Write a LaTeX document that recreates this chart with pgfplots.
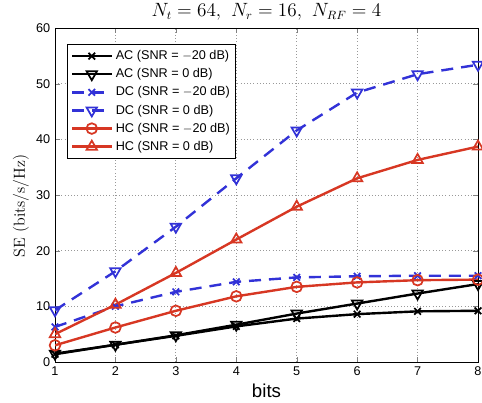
\documentclass[border=0pt]{standalone}
\usepackage{fontspec}
\setsansfont{Liberation Sans}
\usepackage{pgfplots}
\pgfplotsset{compat=1.18}
\definecolor{myblue}{RGB}{50,50,215}
\definecolor{myred}{RGB}{215,55,35}
\begin{document}
\begin{tikzpicture}
\begin{axis}[
  scale only axis,
  width=317.25pt, height=250.5pt,
  xmin=1, xmax=8, ymin=0, ymax=60,
  xtick={1,...,8}, ytick={0,10,...,60},
  tick align=inside, tick pos=both,
  major tick length=3.5pt,
  axis line style={line width=0.6pt},
  grid=major, grid style={dotted, gray!80, line width=0.6pt},
  ticklabel style={font=\sffamily\fontsize{9.5}{11}\selectfont},
  /pgf/number format/assume math mode=true,
  xlabel={\sffamily\fontsize{14}{16}\selectfont bits},
  ylabel={\fontsize{12}{14}\selectfont SE (bits/s/Hz)},
  xlabel style={at={(axis description cs:0.5,0)}, anchor=base, yshift=-26.25pt},
  ylabel style={at={([xshift=-25.5pt]axis description cs:0,0.467)}, anchor=center},
  every axis title shift=0pt,
  title={\fontsize{13.5}{16}\selectfont $N_t = 64,\hspace{5pt}N_r = 16,\hspace{5pt}N_{RF} = 4$},
  title style={at={(axis description cs:0.5,1)}, anchor=base, yshift=8.25pt},
  legend style={at={(0,1)}, anchor=north west, xshift=9pt, yshift=-12pt, font=\sffamily\fontsize{9.5}{11}\selectfont, draw=black, line width=0.8pt, cells={anchor=west}, row sep=1.2pt, inner sep=2.5pt},
  legend cell align=left,
  legend image code/.code={\draw[mark repeat=2,mark phase=2] plot coordinates {(0cm,0cm)(0.52cm,0cm)(1.05cm,0cm)};},
  every axis plot/.append style={line width=1.8pt, mark size=4pt},
]
\addplot[black, mark=x, mark size=3.5pt, mark options={solid, line width=1.3pt}] coordinates {(1,1.4)(2,3.1)(3,4.7)(4,6.4)(5,7.8)(6,8.6)(7,9.1)(8,9.2)};
\addlegendentry{AC (SNR = $-$20 dB)}
\addplot[black, mark=triangle, mark size=4.5pt, mark options={solid, rotate=180, line width=1.3pt}] coordinates {(1,1.5)(2,3.1)(3,4.8)(4,6.7)(5,8.7)(6,10.5)(7,12.3)(8,14.0)};
\addlegendentry{AC (SNR = 0 dB)}
\addplot[myblue, dash pattern=on 9pt off 6pt, mark=x, mark size=3.5pt, mark options={solid, line width=1.3pt}] coordinates {(1,6.3)(2,10.0)(3,12.6)(4,14.4)(5,15.2)(6,15.4)(7,15.5)(8,15.5)};
\addlegendentry{DC (SNR = $-$20 dB)}
\addplot[myblue, dash pattern=on 9pt off 6pt, mark=triangle, mark size=4.5pt, mark options={solid, rotate=180, line width=1.3pt}] coordinates {(1,9.3)(2,16.3)(3,24.3)(4,33.0)(5,41.6)(6,48.4)(7,51.7)(8,53.4)};
\addlegendentry{DC (SNR = 0 dB)}
\addplot[myred, mark=o, mark options={solid, line width=1.3pt}] coordinates {(1,3.0)(2,6.2)(3,9.2)(4,11.8)(5,13.5)(6,14.3)(7,14.7)(8,14.8)};
\addlegendentry{HC (SNR = $-$20 dB)}
\addplot[myred, mark=triangle, mark size=4.5pt, mark options={solid, line width=1.3pt}] coordinates {(1,5.0)(2,10.3)(3,16.0)(4,22.0)(5,27.9)(6,33.0)(7,36.3)(8,38.7)};
\addlegendentry{HC (SNR = 0 dB)}
\end{axis}
\pgfresetboundingbox
\path ([shift={(-41.25pt,-30pt)}]current axis.south west) rectangle ([shift={(3pt,21pt)}]current axis.north east);
\end{tikzpicture}
\end{document}
